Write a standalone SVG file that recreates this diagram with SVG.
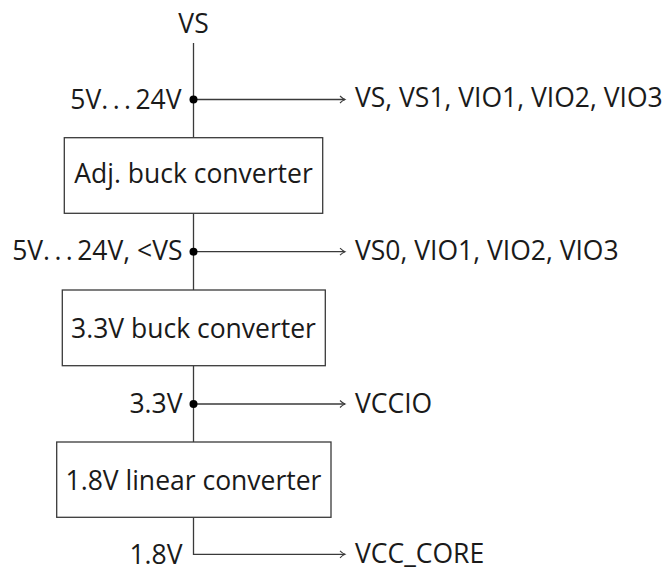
<svg xmlns="http://www.w3.org/2000/svg" width="664" height="568" viewBox="0 0 664 568">
<defs>
<style>
text{font-family:"Open Sans","Noto Sans",sans-serif;font-size:26.5px;fill:#1a1a1a}
.box{fill:#fff;stroke:#3a3a3a;stroke-width:1.3}
.w{fill:none;stroke:#3a3a3a;stroke-width:1.3}
.dot{fill:#000}
.m{text-anchor:middle}
.e{text-anchor:end}
</style>
<marker id="arr" markerWidth="10" markerHeight="10" refX="7" refY="5" orient="auto" markerUnits="userSpaceOnUse">
<path d="M2,1.5 Q4.5,4 7,5 Q4.5,6 2,8.5" fill="none" stroke="#3a3a3a" stroke-width="1.1"/>
</marker>
</defs>
<g id="connectors">
<line class="w" x1="193.5" y1="43" x2="193.5" y2="137.7"/>
<line class="w" x1="193.5" y1="99.5" x2="345" y2="99.5" marker-end="url(#arr)"/>
<line class="w" x1="193.5" y1="213.3" x2="193.5" y2="290"/>
<line class="w" x1="193.5" y1="251.7" x2="345" y2="251.7" marker-end="url(#arr)"/>
<line class="w" x1="193.5" y1="365.7" x2="193.5" y2="442"/>
<line class="w" x1="193.5" y1="404" x2="345" y2="404" marker-end="url(#arr)"/>
<polyline class="w" points="193.5,517.3 193.5,554.3 345,554.3" marker-end="url(#arr)"/>
<circle class="dot" cx="193.5" cy="99.5" r="4"/>
<circle class="dot" cx="193.5" cy="251.7" r="4"/>
<circle class="dot" cx="193.5" cy="404" r="4"/>
</g>
<g id="vs"><text class="m" x="193.5" y="33">VS</text></g>
<g id="n1"><text class="e" x="181.5" y="109">5V.&#x2009;.&#x2009;.&#x2009;24V</text><text x="355" y="107">VS, VS1, VIO1, VIO2, VIO3</text></g>
<g id="adj">
<rect class="box" x="64.3" y="137.7" width="258.4" height="75.6"/>
<text class="m" x="193.5" y="183.3">Adj. buck converter</text>
</g>
<g id="n2"><text class="e" x="182.5" y="260">5V.&#x2009;.&#x2009;.&#x2009;24V, &lt;VS</text><text x="355" y="260">VS0, VIO1, VIO2, VIO3</text></g>
<g id="buck33">
<rect class="box" x="62.3" y="290" width="263" height="75.7"/>
<text class="m" x="193.5" y="338.3">3.3V buck converter</text>
</g>
<g id="n3"><text class="e" x="182.5" y="413.3">3.3V</text><text x="355" y="413">VCCIO</text></g>
<g id="lin18">
<rect class="box" x="56.7" y="442" width="274.3" height="75.3"/>
<text class="m" x="193.5" y="490">1.8V linear converter</text>
</g>
<g id="n4"><text class="e" x="182.5" y="564">1.8V</text><text x="355" y="562.5">VCC_CORE</text></g>
</svg>
